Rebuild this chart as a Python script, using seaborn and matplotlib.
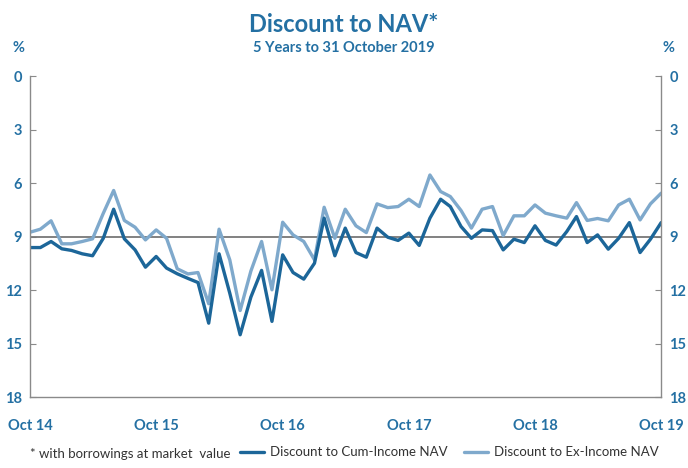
import pandas as pd
import numpy as np
import matplotlib
matplotlib.use("Agg")
import matplotlib.pyplot as plt
import seaborn as sns

# monthly discounts (%), Oct 2014 - Oct 2019
months = pd.date_range("2014-10-31", periods=61, freq="ME")
cum_income = [9.62, 9.62, 9.28, 9.69, 9.78, 9.97, 10.08, 9.1, 7.47, 9.13, 9.75, 10.72, 10.12,
              10.77, 11.09, 11.35, 11.58, 13.86, 9.97, 12.18, 14.51, 12.4, 10.9, 13.76, 10.03,
              11.02, 11.39, 10.5, 7.97, 10.08, 8.53, 9.9, 10.16, 8.53, 9.04, 9.22, 8.81, 9.5,
              7.97, 6.91, 7.32, 8.44, 9.1, 8.63, 8.67, 9.75, 9.15, 9.34, 8.4, 9.22, 9.48, 8.72,
              7.88, 9.34, 8.91, 9.71, 9.1, 8.22, 9.9, 9.15, 8.22]
ex_income = [8.76, 8.59, 8.12, 9.41, 9.41, 9.28, 9.13, 7.7, 6.42, 8.1, 8.48, 9.19, 8.63,
             9.1, 10.81, 11.1, 11.02, 12.77, 8.59, 10.31, 13.15, 10.94, 9.28, 11.99, 8.2,
             8.91, 9.28, 10.31, 7.36, 9.1, 7.47, 8.4, 8.78, 7.17, 7.38, 7.32, 6.91, 7.32,
             5.55, 6.48, 6.76, 7.54, 8.53, 7.47, 7.32, 8.95, 7.84, 7.84, 7.23, 7.69, 7.84, 7.97,
             7.1, 8.1, 7.99, 8.12, 7.23, 6.91, 8.07, 7.17, 6.57]
series_names = ["Discount to Cum-Income NAV", "Discount to Ex-Income NAV"]
average = 9.0
y_ticks = [0, 3, 6, 9, 12, 15, 18]
x_ticks = pd.to_datetime(["2014-10-31", "2015-10-31", "2016-10-31",
                          "2017-10-31", "2018-10-31", "2019-10-31"])
x_labels = ["Oct 14", "Oct 15", "Oct 16", "Oct 17", "Oct 18", "Oct 19"]

df = pd.DataFrame({
    "date": np.concatenate([months, months]),
    "value": cum_income + ex_income,
    "series": [series_names[0]] * len(months) + [series_names[1]] * len(months),
})

sns.set_style("white")
plt.rcParams["font.family"] = ["Lato", "DejaVu Sans"]

blue = "#2470a3"
dark = "#1c6699"
light = "#7fa9cc"
grey = "#8a8a8a"
colors = {series_names[0]: dark, series_names[1]: light}

fig = plt.figure(figsize=(6.88, 4.68), dpi=100)
ax = fig.add_axes([0.0436, 0.1517, 0.9174, 0.6859])

ax.axhline(average, color="#777777", lw=1.3, zorder=1)
# light line first so the dark one sits on top
sns.lineplot(data=df, x="date", y="value", hue="series", palette=colors,
             hue_order=series_names[::-1], linewidth=2.4, ax=ax, legend=False, zorder=2)

ax.set_ylim(18, 0)
ax.set_xlim(months[0], months[-1])
ax.set_yticks(y_ticks)
ax.set_xticks(x_ticks)
ax.set_xticklabels(x_labels)
ax.set_xlabel("")
ax.set_ylabel("")

for side in ["left", "right", "bottom"]:
    ax.spines[side].set_color(grey)
    ax.spines[side].set_linewidth(1.0)
ax.spines["top"].set_visible(False)

ax.tick_params(axis="y", left=True, right=True, labelleft=True, labelright=True,
               direction="in", length=4, color=grey, labelcolor=blue, labelsize=10.5, pad=6)
ax.tick_params(axis="x", direction="in", length=4, color=grey, labelcolor=blue,
               labelsize=10.5, pad=16)
for lab in ax.get_xticklabels():
    lab.set_fontweight("bold")
for t in ax.yaxis.get_major_ticks():
    t.label1.set_fontweight("bold")
    t.label2.set_fontweight("bold")

fig.text(0.5, 0.948, "Discount to NAV*", ha="center", va="center", fontsize=17,
         fontweight="bold", color=blue)
fig.text(0.5, 0.898, "5 Years to 31 October 2019", ha="center", va="center", fontsize=10.5,
         fontweight="bold", color=blue)
fig.text(0.027, 0.898, "%", ha="center", va="center", fontsize=10.5, fontweight="bold", color=blue)
fig.text(0.972, 0.898, "%", ha="center", va="center", fontsize=10.5, fontweight="bold", color=blue)

fig.text(0.043, 0.018, "* with borrowings at market  value", ha="left", va="bottom",
         fontsize=9.5, color="#333333")
handles = [plt.Line2D([], [], color=dark, lw=2.4), plt.Line2D([], [], color=light, lw=2.4)]
fig.legend(handles, series_names, loc="lower right", bbox_to_anchor=(0.975, -0.005), ncol=2,
           frameon=False, fontsize=9.5, handlelength=1.8, handletextpad=0.5, columnspacing=1.2,
           labelcolor="#333333")

fig.savefig("out.png", dpi=100)
